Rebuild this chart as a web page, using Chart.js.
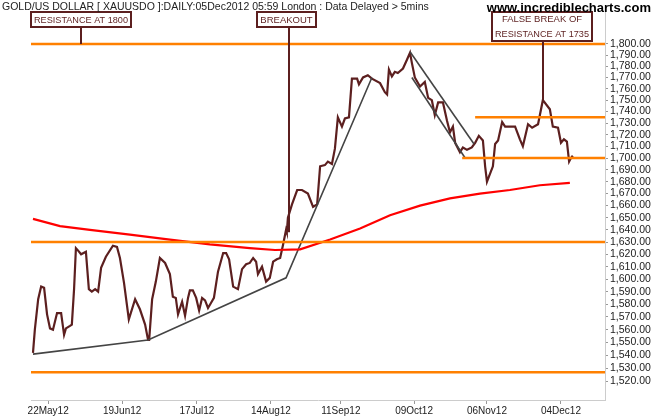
<!DOCTYPE html>
<html><head><meta charset="utf-8">
<script src="https://cdn.jsdelivr.net/npm/chart.js@4/dist/chart.umd.min.js"></script>
<style>html,body{margin:0;padding:0;background:#fff}#wrap{position:relative;width:660px;height:420px}</style>
</head><body><div id="wrap"><canvas id="c" width="660" height="420"></canvas></div>
<script>
const title = "GOLD/US DOLLAR [ XAUUSDO ]:DAILY:05Dec2012 05:59 London : Data Delayed > 5mins";
const site = "www.incrediblecharts.com";
const tickDays = [4.1,24.1,44.3,64.3,83.2,103,122.7,142.7];
const tickLabels = ["22May12","19Jun12","17Jul12","14Aug12","11Sep12","09Oct12","06Nov12","04Dec12"];
const priceDays = [0,0.5,1.4,2.2,3,3.8,4.6,5.4,6.5,7.6,8.4,8.9,10,10.5,11.1,11.6,12.2,13,14.3,15.1,15.9,16.8,17.6,18.4,19.7,21.6,22.7,23.5,24.6,25.9,27.6,28.9,30.3,31.1,31.4,32.2,33.2,34.3,35.7,37,37.8,38.6,39.2,40.3,41.1,41.9,42.4,43.2,44.1,44.9,45.7,46.5,47.3,48.1,48.9,50,51.4,52.2,53,54.1,55.4,56.5,57.6,58.6,59.5,60.3,60.8,61.9,63,64,64.9,65.9,66.8,67.6,68.4,68.6,68.9,70,71.4,72.7,74.3,75.7,76.8,77.6,78.9,79.7,80.8,81.6,82.4,83.5,84.3,85.4,86.2,87.6,88.1,89.2,90.5,91.6,93.8,95.1,95.7,96.2,97,97.8,98.6,100,101.1,101.9,102.4,103.2,104.6,105.9,106.8,107.8,108.6,109.5,110.8,111.9,112.7,113.5,114.1,115.4,116.2,117.3,118.6,119.5,120.5,121.6,122.2,122.7,124.3,124.9,125.7,126.8,127.6,130.3,131.6,132.4,133.8,134.9,136.5,137.8,139.7,140.5,141.9,142.7,143.5,144.3,144.9,145.4,145.9];
const priceVals = [1542,1560,1584,1594,1593,1572,1561,1560,1573,1573,1556,1561,1563,1564,1592,1625,1623,1620,1622,1592,1590,1592,1590,1609,1618,1627,1626,1617,1597,1568,1584,1576,1564,1552,1552,1584,1598,1617,1613,1604,1586,1585,1572,1582,1571,1585,1591,1591,1585,1575,1585,1583,1577,1581,1585,1606,1621,1621,1616,1594,1592,1608,1612,1613,1617,1614,1604,1610,1598,1601,1614,1616,1617,1628,1640,1638,1650,1661,1673,1673,1670,1659,1661,1693,1694,1697,1695,1708,1735,1727,1734,1735,1769,1769,1764,1770,1772,1769,1765,1757,1755,1777,1771,1775,1774,1778,1786,1792,1783,1770,1762,1766,1752,1750,1737,1748,1748,1732,1722,1727,1713,1705,1709,1707,1709,1713,1719,1715,1693,1680,1693,1712,1715,1731,1727,1727,1716,1710,1729,1726,1729,1750,1742,1727,1726,1713,1716,1714,1697,1700,1702];
const maDays = [0,7.3,15.4,26.2,37,47.8,58.6,65.4,72.2,80.3,88.4,96.5,104.6,112.7,120.8,128.9,137,145.1];
const maVals = [1649,1643,1640,1636,1632,1628,1625,1623.5,1624,1632,1641,1652,1660,1666,1670,1673,1677,1679];
const supportLow = {days:[0,31.1,68.4,91.6], vals:[1541,1552,1601,1770]};
const channelUpper = {days:[101.9,119.2], vals:[1793,1712]};
const channelLower = {days:[102.4,116.8], vals:[1770,1700]};
const levels = [ {from:-0.6,to:155,v:1800},{from:-0.6,to:155,v:1630},{from:-0.6,to:155,v:1527},{from:119.5,to:155,v:1735},{from:116,to:155,v:1700} ];
const yTicks = []; for (let v=1520; v<=1800; v+=10) yTicks.push(v);
const notes = [
 {lines:["RESISTANCE AT 1800"], box:[31,12,131,27], day:13, to:1800},
 {lines:["BREAKOUT"], box:[257,12,316,27], day:69.1, to:1638},
 {lines:["FALSE BREAK OF","RESISTANCE AT 1735"], box:[492,12,592,41], day:137.8, to:1750}
];
const pts=(d,v)=>d.map((x,i)=>({x:x,y:v[i]}));
const ORANGE='#ff8000', MAROON='#5c1f1f', GRAY='#444444';
const ds=[];
levels.forEach(l=>ds.push({data:[{x:l.from,y:l.v},{x:l.to,y:l.v}],borderColor:ORANGE,borderWidth:2.5}));
ds.push({data:pts(maDays,maVals),borderColor:'#ff0000',borderWidth:2.2});
ds.push({data:pts(supportLow.days,supportLow.vals),borderColor:GRAY,borderWidth:1.6});
ds.push({data:pts(channelUpper.days,channelUpper.vals),borderColor:GRAY,borderWidth:1.6});
ds.push({data:pts(channelLower.days,channelLower.vals),borderColor:GRAY,borderWidth:1.6});
ds.push({data:pts(priceDays,priceVals),borderColor:MAROON,borderWidth:2.2});
ds.forEach(d=>{d.pointRadius=0;d.tension=0;d.fill=false;});
const notePlugin={id:'notes',afterDatasetsDraw(ch){
 const c=ch.ctx, xs=ch.scales.x, ys=ch.scales.y;
 c.save();
 notes.forEach(n=>{
  const [x1,y1,x2,y2]=n.box; const px=Math.round(xs.getPixelForValue(n.day));
  c.strokeStyle=MAROON; c.lineWidth=2;
  c.beginPath(); c.moveTo(px,y2); c.lineTo(px,ys.getPixelForValue(n.to)); c.stroke();
  c.fillStyle='#fff'; c.fillRect(x1,y1,x2-x1,y2-y1);
  c.strokeRect(x1,y1,x2-x1,y2-y1);
  c.fillStyle=MAROON; c.font='9.5px "Liberation Sans", Arial';
  c.textAlign='center'; c.textBaseline='middle';
  const h=(y2-y1)/n.lines.length;
  n.lines.forEach((t,i)=>c.fillText(t,(x1+x2)/2,y1+h*(i+0.5)+0.5,x2-x1-6));
 });
 c.restore();
},afterDraw(ch){
 const c=ch.ctx; c.save();
 c.fillStyle='#222'; c.font='10.5px "Liberation Sans", Arial'; c.textBaseline='middle'; c.textAlign='left';
 c.fillText(title,2,7);
 c.font='bold 13px "Liberation Sans", Arial'; c.textAlign='right'; c.fillStyle='#000';
 c.fillText(site,651,8);
 c.restore();
}};
new Chart(document.getElementById('c'),{type:'line',data:{datasets:ds},plugins:[notePlugin],
options:{responsive:false,animation:false,events:[],
 layout:{padding:{left:31,top:12,right:0,bottom:0}},
 plugins:{legend:{display:false},tooltip:{enabled:false}},
 scales:{
  x:{type:'linear',min:-0.54,max:154.6,
   afterBuildTicks(s){s.ticks=tickDays.map(v=>({value:v}));},
   afterFit(s){s.height=20;},
   ticks:{autoSkip:false,maxRotation:0,padding:1,color:'#222',font:{family:'"Liberation Sans", Arial',size:10},
    callback:(v,i)=>tickLabels[i]},
   grid:{display:true,drawOnChartArea:false,drawTicks:true,tickLength:4,color:'#999'},
   border:{display:true,color:'#ccc',width:1}},
  y:{type:'logarithmic',position:'right',min:1506,max:1829,
   afterBuildTicks(s){s.ticks=yTicks.map(v=>({value:v}));},
   afterFit(s){s.width=55;},
   ticks:{autoSkip:false,padding:2,color:'#222',font:{family:'"Liberation Sans", Arial',size:10.5},
    callback:v=>v.toLocaleString('en-US',{minimumFractionDigits:2,maximumFractionDigits:2})},
   grid:{display:true,drawOnChartArea:false,drawTicks:true,tickLength:3,color:'#999'},
   border:{display:true,color:'#ccc',width:1}}
 }}});
</script></body></html>
